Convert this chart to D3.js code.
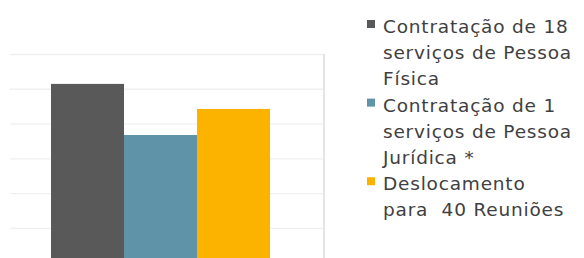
<!DOCTYPE html>
<html lang="pt">
<head>
<meta charset="utf-8">
<title>Despesas</title>
<script src="https://d3js.org/d3.v7.min.js"></script>
<style>
  body { margin: 0; background: #fff; }
  svg { display: block; }
</style>
</head>
<body>
<script>
// data
const series = ["Contratação de 18 serviços de Pessoa Física",
                "Contratação de 1 serviços de Pessoa Jurídica *",
                "Deslocamento para  40 Reuniões"];
const values = [5.14, 3.67, 4.42];
const colors = ["#595959", "#5f93a8", "#fbb300"];
const legendLines = [
  ["Contratação de 18", "serviços de Pessoa", "Física"],
  ["Contratação de 1", "serviços de Pessoa", "Jurídica *"],
  ["Deslocamento", "para  40 Reuniões"]
];
const yTicks = [0, 1, 2, 3, 4, 5, 6];

const width = 584, height = 258;

const svg = d3.select("body").append("svg")
  .attr("width", width)
  .attr("height", height);

// scales
const x0 = d3.scaleBand().domain(["g"]).range([-3, 324]).paddingOuter(0.2466).paddingInner(0);
const x1 = d3.scaleBand().domain(series).range([0, x0.bandwidth()]);
const y = d3.scaleLinear().domain([0, 6]).range([262.6, 54]);

// gridlines
const grid = svg.append("g")
  .attr("transform", "translate(10,0)")
  .call(d3.axisLeft(y).tickValues(yTicks).tickSize(-314).tickFormat(""));
grid.select(".domain").remove();
grid.selectAll(".tick line").attr("stroke", "#f0f0f0").attr("stroke-width", 1.3);

// right border of plot
svg.append("line")
  .attr("x1", 324).attr("x2", 324)
  .attr("y1", y(6)).attr("y2", height)
  .attr("stroke", "#dcdcdc").attr("stroke-width", 1.5);

// bars
svg.append("g")
  .attr("transform", "translate(" + x0("g") + ",0)")
  .selectAll("rect")
  .data(values)
  .enter()
  .append("rect")
  .attr("x", (d, i) => x1(series[i]))
  .attr("y", d => y(d))
  .attr("width", x1.bandwidth())
  .attr("height", d => y(0) - y(d))
  .attr("fill", (d, i) => colors[i]);

// legend
const lineH = 26.2;
const legend = svg.append("g").attr("font-family", "DejaVu Sans, sans-serif")
  .attr("font-size", 18.5).attr("letter-spacing", 0.8).attr("fill", "#404040");
let row = 0;
legendLines.forEach((lines, i) => {
  const baseY = 33 + row * lineH;
  legend.append("rect")
    .attr("x", 367).attr("y", baseY - 13)
    .attr("width", 8).attr("height", 8)
    .attr("fill", colors[i]);
  lines.forEach((t, j) => {
    legend.append("text")
      .attr("x", 383)
      .attr("y", baseY + j * lineH)
      .attr("xml:space", "preserve")
      .style("white-space", "pre")
      .text(t);
  });
  row += lines.length;
});
</script>
</body>
</html>
